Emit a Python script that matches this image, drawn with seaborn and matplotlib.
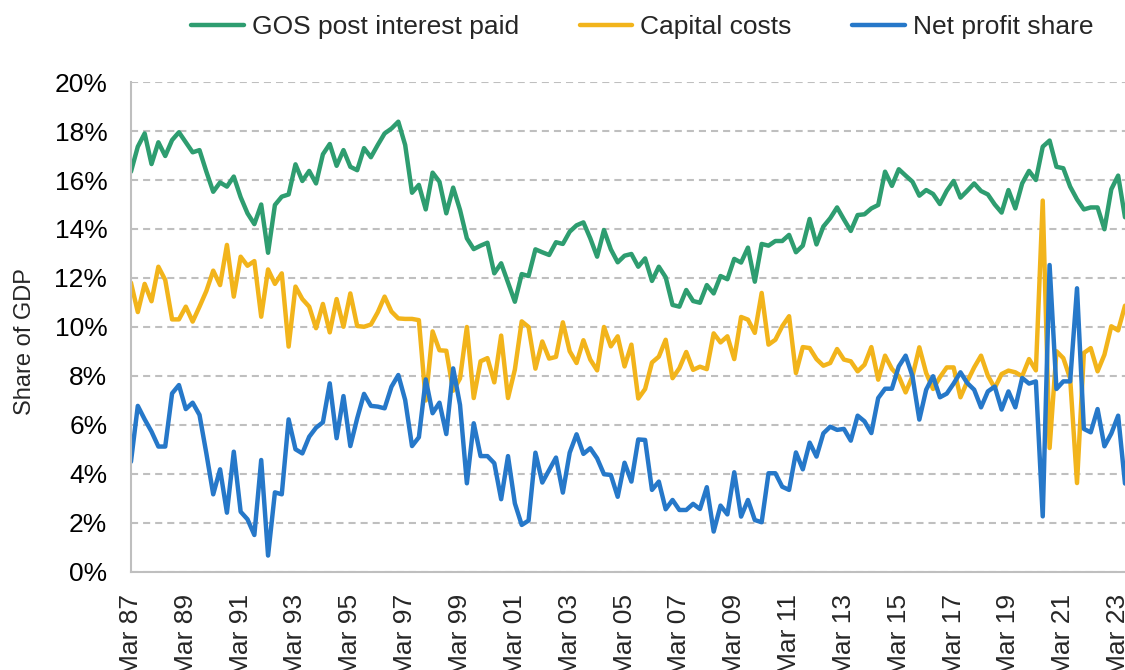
import matplotlib
matplotlib.use("Agg")
import matplotlib.pyplot as plt
import seaborn as sns
import pandas as pd
import numpy as np
from matplotlib.ticker import FuncFormatter, FixedLocator

# quarterly, Mar 87 .. Jun 23 (146 quarters), % of GDP
gos = [16.34, 17.36, 17.9, 16.65, 17.54, 16.98, 17.63, 17.95, 17.54, 17.13,
       17.22, 16.34, 15.52, 15.9, 15.73, 16.14, 15.3, 14.64, 14.2, 15.0,
       13.03, 14.98, 15.32, 15.41, 16.64, 15.96, 16.37, 15.86, 17.05, 17.47,
       16.58, 17.22, 16.54, 16.4, 17.3, 16.93, 17.43, 17.9, 18.1, 18.38,
       17.43, 15.48, 15.8, 14.8, 16.3, 15.93, 14.64, 15.69, 14.78, 13.62,
       13.18, 13.32, 13.44, 12.19, 12.6, 11.81, 11.03, 12.16, 12.08, 13.17,
       13.05, 12.94, 13.46, 13.39, 13.89, 14.15, 14.27, 13.62, 12.87, 13.96,
       13.17, 12.64, 12.91, 12.98, 12.46, 12.8, 11.88, 12.46, 12.03, 10.9,
       10.83, 11.51, 11.06, 10.99, 11.71, 11.37, 12.08, 11.95, 12.78, 12.63,
       13.24, 11.85, 13.39, 13.32, 13.51, 13.51, 13.76, 13.05, 13.32, 14.41,
       13.37, 14.1, 14.44, 14.88, 14.39, 13.92, 14.57, 14.6, 14.84, 14.98,
       16.34, 15.76, 16.44, 16.18, 15.93, 15.36, 15.59, 15.43, 15.02, 15.56,
       15.96, 15.28, 15.56, 15.86, 15.55, 15.41, 15.0, 14.67, 15.59, 14.84,
       15.86, 16.37, 16.0, 17.36, 17.61, 16.54, 16.48, 15.73, 15.21, 14.8,
       14.88, 14.88, 13.99, 15.62, 16.18, 14.48]

capital = [11.81, 10.61, 11.76, 11.05, 12.46, 11.92, 10.31, 10.31, 10.83, 10.22,
           10.83, 11.47, 12.3, 11.71, 13.35, 11.24, 12.87, 12.5, 12.69, 10.42,
           12.35, 11.76, 12.19, 9.2, 11.65, 11.14, 10.83, 9.95, 10.94, 9.78,
           11.14, 10.01, 11.37, 10.04, 10.01, 10.1, 10.6, 11.24, 10.63, 10.35,
           10.33, 10.33, 10.28, 7.0, 9.82, 9.05, 9.03, 7.4, 7.9, 10.0,
           7.1, 8.6, 8.73, 7.74, 9.65, 7.1, 8.26, 10.23, 10.0, 8.3,
           9.41, 8.71, 8.78, 10.19, 9.01, 8.53, 9.46, 8.67, 8.23, 10.0,
           9.21, 9.62, 8.39, 9.28, 7.08, 7.47, 8.55, 8.79, 9.48, 7.91,
           8.32, 8.98, 8.25, 8.38, 8.28, 9.74, 9.37, 9.62, 8.69, 10.41,
           10.3, 9.76, 11.39, 9.28, 9.48, 10.03, 10.44, 8.12, 9.18, 9.14,
           8.69, 8.42, 8.53, 9.1, 8.67, 8.6, 8.19, 8.46, 9.18, 7.85,
           8.83, 8.29, 7.99, 7.33, 7.99, 9.17, 8.12, 7.47, 7.95, 8.35,
           8.35, 7.13, 7.78, 8.35, 8.83, 8.01, 7.51, 8.08, 8.22, 8.15,
           7.99, 8.69, 8.23, 15.16, 5.06, 9.01, 8.73, 7.9, 3.63, 8.94,
           9.14, 8.19, 8.87, 10.03, 9.86, 10.87]

net_profit = [4.5, 6.78, 6.23, 5.73, 5.12, 5.12, 7.29, 7.63, 6.65, 6.91,
              6.41, 4.84, 3.17, 4.19, 2.42, 4.91, 2.46, 2.15, 1.51, 4.57,
              0.67, 3.25, 3.17, 6.23, 5.01, 4.84, 5.52, 5.89, 6.11, 7.7,
              5.46, 7.18, 5.14, 6.27, 7.27, 6.78, 6.75, 6.68, 7.56, 8.04,
              7.02, 5.14, 5.5, 7.86, 6.48, 6.91, 5.63, 8.31, 6.82, 3.62,
              6.07, 4.73, 4.73, 4.44, 2.97, 4.73, 2.8, 1.92, 2.1, 4.87,
              3.65, 4.16, 4.67, 3.24, 4.87, 5.62, 4.82, 5.05, 4.64, 3.99,
              3.96, 3.07, 4.46, 3.69, 5.41, 5.39, 3.35, 3.69, 2.56, 2.94,
              2.53, 2.53, 2.78, 2.57, 3.46, 1.65, 2.71, 2.35, 4.07, 2.26,
              2.94, 2.12, 2.03, 4.03, 4.03, 3.48, 3.35, 4.88, 4.19, 5.28,
              4.71, 5.66, 5.93, 5.8, 5.84, 5.36, 6.38, 6.15, 5.67, 7.1,
              7.48, 7.48, 8.39, 8.83, 7.99, 6.22, 7.44, 7.99, 7.13, 7.28,
              7.69, 8.15, 7.71, 7.44, 6.72, 7.37, 7.57, 6.63, 7.37, 6.72,
              7.92, 7.69, 7.78, 2.27, 12.53, 7.47, 7.78, 7.78, 11.58, 5.84,
              5.7, 6.65, 5.13, 5.65, 6.38, 3.61]

tick_labels = ["Mar 87", "Mar 89", "Mar 91", "Mar 93", "Mar 95", "Mar 97",
               "Mar 99", "Mar 01", "Mar 03", "Mar 05", "Mar 07", "Mar 09",
               "Mar 11", "Mar 13", "Mar 15", "Mar 17", "Mar 19", "Mar 21",
               "Mar 23"]

series_names = ["GOS post interest paid", "Capital costs", "Net profit share"]
colors = ["#2E9D70", "#F2B41B", "#2678C9"]

n = len(gos)
df = pd.DataFrame({
    "q": np.tile(np.arange(n), 3),
    "value": gos + capital + net_profit,
    "series": np.repeat(series_names, n),
})

sns.set_style("white")
plt.rcParams["font.family"] = ["Liberation Sans", "DejaVu Sans"]

fig = plt.figure(figsize=(11.25, 6.7), dpi=100)
ax = fig.add_axes([0.1164, 0.1463, 0.8836, 0.7313])

sns.lineplot(data=df, x="q", y="value", hue="series", hue_order=series_names,
             palette=colors, linewidth=3.2, ax=ax, legend=False)

ax.set_xlim(0, n - 1)
ax.set_ylim(0, 20)
ax.set_yticks(np.arange(0, 21, 2))
ax.yaxis.set_major_formatter(FuncFormatter(lambda v, p: f"{v:.0f}%"))
ax.xaxis.set_major_locator(FixedLocator(np.arange(0, n, 8)))
ax.xaxis.set_minor_locator(FixedLocator(np.arange(4, n, 8)))
ax.set_xticklabels(tick_labels, rotation=90)

grey = "#BFBFBF"
ax.yaxis.grid(True, color=grey, linestyle=(0, (3.4, 2.4)), linewidth=1.5)
ax.set_axisbelow(True)
for s in ["top", "right"]:
    ax.spines[s].set_visible(False)
for s in ["left", "bottom"]:
    ax.spines[s].set_color(grey)
    ax.spines[s].set_linewidth(1.5)

ax.tick_params(axis="y", length=0, pad=17, labelsize=19, labelcolor="#000000")
ax.tick_params(axis="x", which="both", direction="out", length=4.5, width=1.5,
               color=grey, labelsize=19, pad=11)
ax.set_xlabel("")
ax.set_ylabel("")
fig.text(25 / 1125, 0.49, "Share of GDP", rotation=90, va="center", ha="center",
         fontsize=17)

handles = [plt.Line2D([], [], color=c, linewidth=3.2) for c in colors]
fig.legend(handles, series_names, loc="center", bbox_to_anchor=(0.571, 0.96),
           ncol=3, frameon=False, fontsize=19, handlelength=2.0,
           handletextpad=0.3, columnspacing=2.3)

fig.savefig("out.png", dpi=100)
